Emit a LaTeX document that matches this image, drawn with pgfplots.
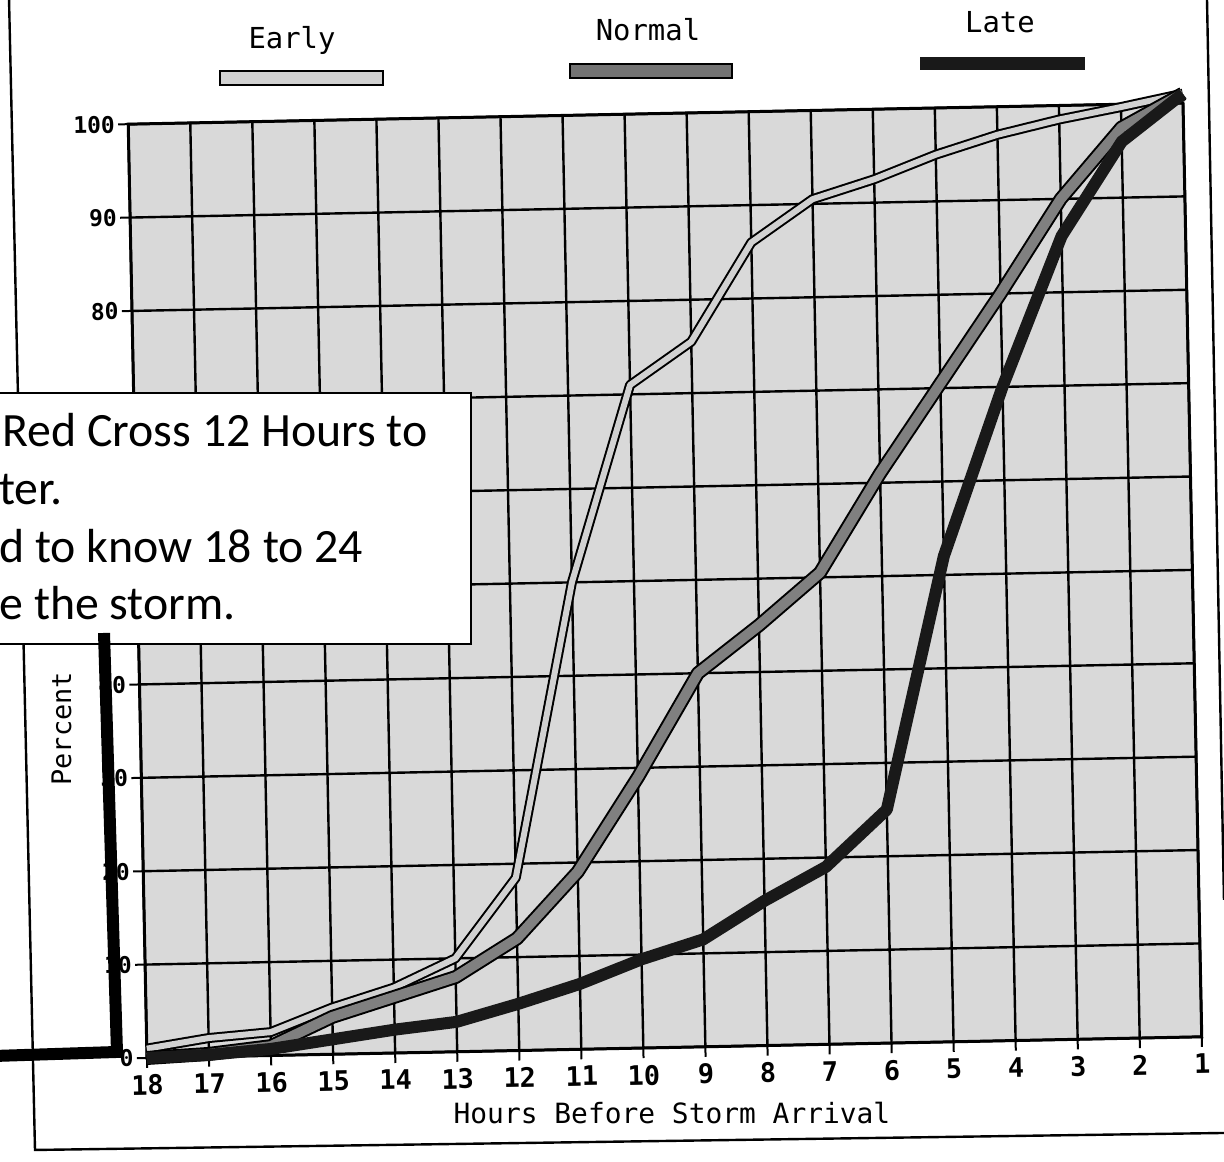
\documentclass[border=0pt]{standalone}
\usepackage{fontspec}
\usepackage{pgfplots}
\usepackage{pgfplotstable}
\pgfplotsset{compat=1.18}
\setmainfont{DejaVu Sans Mono}
\newfontfamily\boxfont{Carlito}

\pgfplotstableread{
h v
18 1
17 2
16 2.5
15 5
14 7
13 10
12 18.5
11 50
10 71
9 75.5
8 86
7 90.5
6 92.5
5 95
4 97
3 98.5
2 99.7
1 101
}\earlytab
\pgfplotstableread{
h v
18 0
17 0.3
16 1
15 4
14 6
13 8
12 12
11 19
10 29
9 40
8 45
7 50.5
6 61
5 70.5
4 80
3 90
2 97.5
1 101
}\normaltab
\pgfplotstableread{
h v
18 0
17 0.2
16 0.7
15 1.6
14 2.5
13 3.2
12 5
11 7
10 9.5
9 11.5
8 15.5
7 19
6 25
5 52
4 70
3 86
2 96
1 101
}\latetab

\begin{document}
\begin{tikzpicture}
\path[use as bounding box] (0,0) rectangle (612bp,581bp);
\begin{scope}[rotate around={1.15:(332.5bp,290.75bp)}]
\begin{axis}[
  at={(68.75bp,57.25bp)}, anchor=south west, scale only axis,
  width=527.5bp, height=467bp,
  xmin=1, xmax=18, x dir=reverse, ymin=0, ymax=100,
  xtick={1,...,18}, ytick={0,10,...,100},
  yticklabels={0,10,20,30,40,{},{},{},80,90,100},
  xtick pos=bottom, ytick pos=left,
  grid=major, major grid style={black, line width=1.2bp},
  axis line style={line width=1.5bp},
  tick style={black, line width=1bp},
  tick align=outside, major tick length=5bp,
  x tick label style={font=\fontsize{13.5}{13.5}\selectfont\bfseries},
  y tick label style={font=\fontsize{11.5}{11.5}\selectfont\bfseries, inner sep=1.5bp},
  /pgf/number format/assume math mode=true,
  axis background/.style={fill=black!15},
  clip=false,
]
\addplot[black, line width=5bp, line join=round] table[x=h,y=v] {\earlytab};
\addplot[black!18, line width=3bp, line join=round] table[x=h,y=v] {\earlytab};
\addplot[black, line width=7bp, line join=round] table[x=h,y=v] {\normaltab};
\addplot[black!50, line width=5bp, line join=round] table[x=h,y=v] {\normaltab};
\addplot[black!90, line width=6bp, line join=round] table[x=h,y=v] {\latetab};
\end{axis}
\end{scope}
\begin{scope}[x=0.5bp, y=-0.5bp, yshift=581bp]
  % outer frame
  \draw[line width=1.2bp] (9,-2) -- (35,1150) -- (1224,1133);
  \draw[line width=1.2bp] (1207,-2) -- (1224,900);
  % legend
  \node[font=\fontsize{14.5}{14.5}\selectfont] at (292,40) {Early};
  \draw[line width=1bp, fill=black!18] (220,71) rectangle (383,85);
  \node[font=\fontsize{14.5}{14.5}\selectfont] at (648,30) {Normal};
  \draw[line width=1bp, fill=black!55] (570,64) rectangle (732,78);
  \node[font=\fontsize{14.5}{14.5}\selectfont] at (1000,22) {Late};
  \fill[black!90] (920,57) rectangle (1085,70);
  % axis labels
  \node[font=\fontsize{14}{14}\selectfont] at (672,1113) {Hours Before Storm Arrival};
  \node[font=\fontsize{13.5}{13.5}\selectfont, rotate=90, anchor=base west, inner sep=0] at (71,786) {Percent};
  % overlay text box
  \filldraw[fill=white, draw=black, line width=1bp] (-20,393) rectangle (471,644);
  \begin{scope}[every node/.style={anchor=base west, inner sep=0, font=\boxfont\fontsize{24}{24}\selectfont}]
    \node at (2,447) {Red Cross 12 Hours to};
    \node at (-1,505) {ter.};
    \node at (-1,563) {d to know 18 to 24};
    \node at (-1,620) {e the storm.};
  \end{scope}
  \draw[line width=6bp, line join=miter] (104,633) -- (117,1052) -- (-5,1056);
\end{scope}
\end{tikzpicture}
\end{document}
